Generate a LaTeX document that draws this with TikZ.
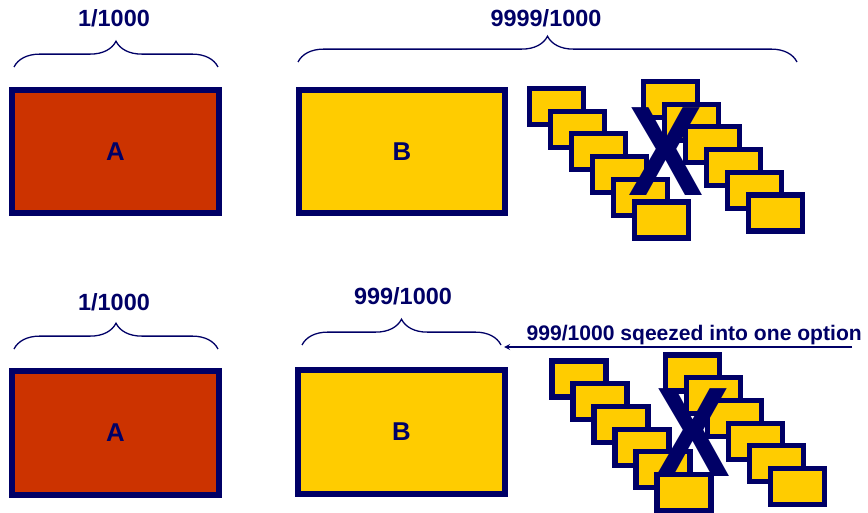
\documentclass[tikz,border=0pt]{standalone}
\usepackage{fontspec}
\setmainfont{Liberation Sans}
\usepackage{tikz}
\usetikzlibrary{decorations.pathreplacing, arrows.meta, positioning}
\definecolor{navy}{HTML}{000066}
\definecolor{brick}{HTML}{CC3300}
\definecolor{gold}{HTML}{FFCC00}
\tikzset{
  bigbox/.style={rectangle, draw=navy, line width=5.1pt, minimum width=6.2cm, minimum height=3.7cm, inner sep=0pt, text=navy, font=\fontsize{22}{26}\selectfont\bfseries},
  smallbox/.style={draw=navy, line width=4.3pt, fill=gold},
  share/.style={decorate, decoration={brace, amplitude=22pt}, draw=navy, line width=1.1pt},
  sharelabel/.style={anchor=base, text=navy, inner sep=0pt, font=\fontsize{20}{24}\selectfont\bfseries},
  crossmark/.style={text=navy, inner sep=0pt, font=\fontsize{109}{109}\selectfont\bfseries},
  arrow/.style={line width=1.3pt, draw=navy, ->, >=stealth}
}
\newcommand{\optionstack}[6]{
    % Left column of options
    \foreach \i in {0,...,5} {
        \draw[smallbox] ({#1+21*\i-27}, {#2+22.7*\i-18}) rectangle ++(54,36);
    }
    % Right column of options
    \foreach \i in {0,...,5} {
        \draw[smallbox] ({#3+21*\i-27}, {#4+22.7*\i-18}) rectangle ++(54,36);
    }
    % Cross over both columns
    \node[crossmark] (#5) at (#6) {\scalebox{0.88}[1]{X}};
}

\begin{document}
\begin{tikzpicture}[x=0.03cm, y=-0.03cm]
    \useasboundingbox (0,0) rectangle (868,513);

    % ==========================================
    % 1. Top row
    % ==========================================

    % Boxes A and B
    \node[bigbox, fill=brick] (A1) at (115.5,151.5) {A};
    \node[bigbox, fill=gold] (B1) at (402,151.5) {B};

    % Braces and shares
    \draw[share] (14,67) -- (218,67);
    \node[sharelabel] (shareA1) at (114,27) {1/1000};
    \draw[share] (298,62) -- (797,62);
    \node[sharelabel] (shareB1) at (546,27) {9999/1000};

    % Many small options
    \optionstack{556.5}{106.5}{670.5}{99.5}{X1}{666,152}

    % ==========================================
    % 2. Bottom row
    % ==========================================

    % Boxes A and B
    \node[bigbox, fill=brick] (A2) at (115.5,433) {A};
    \node[bigbox, fill=gold] (B2) at (401.5,432) {B};

    % Braces and shares
    \draw[share] (14,349) -- (218,349);
    \node[sharelabel] (shareA2) at (114,310) {1/1000};
    \draw[share] (302,345) -- (501,345);
    \node[sharelabel] (shareB2) at (403,304) {999/1000};

    % Squeezed arrow
    \coordinate (squeeze) at (504,347);
    \coordinate (arrowtail) at (852,347);
    \draw[arrow] (arrowtail) -- (squeeze);
    \node[anchor=base east, inner sep=0pt, text=navy, font=\fontsize{18}{22}\selectfont\bfseries] (squeezetext) at (862,340) {999/1000 sqeezed into one option};

    % Many small options
    \optionstack{579}{379}{692.5}{373}{X2}{693,433}

\end{tikzpicture}
\end{document}
